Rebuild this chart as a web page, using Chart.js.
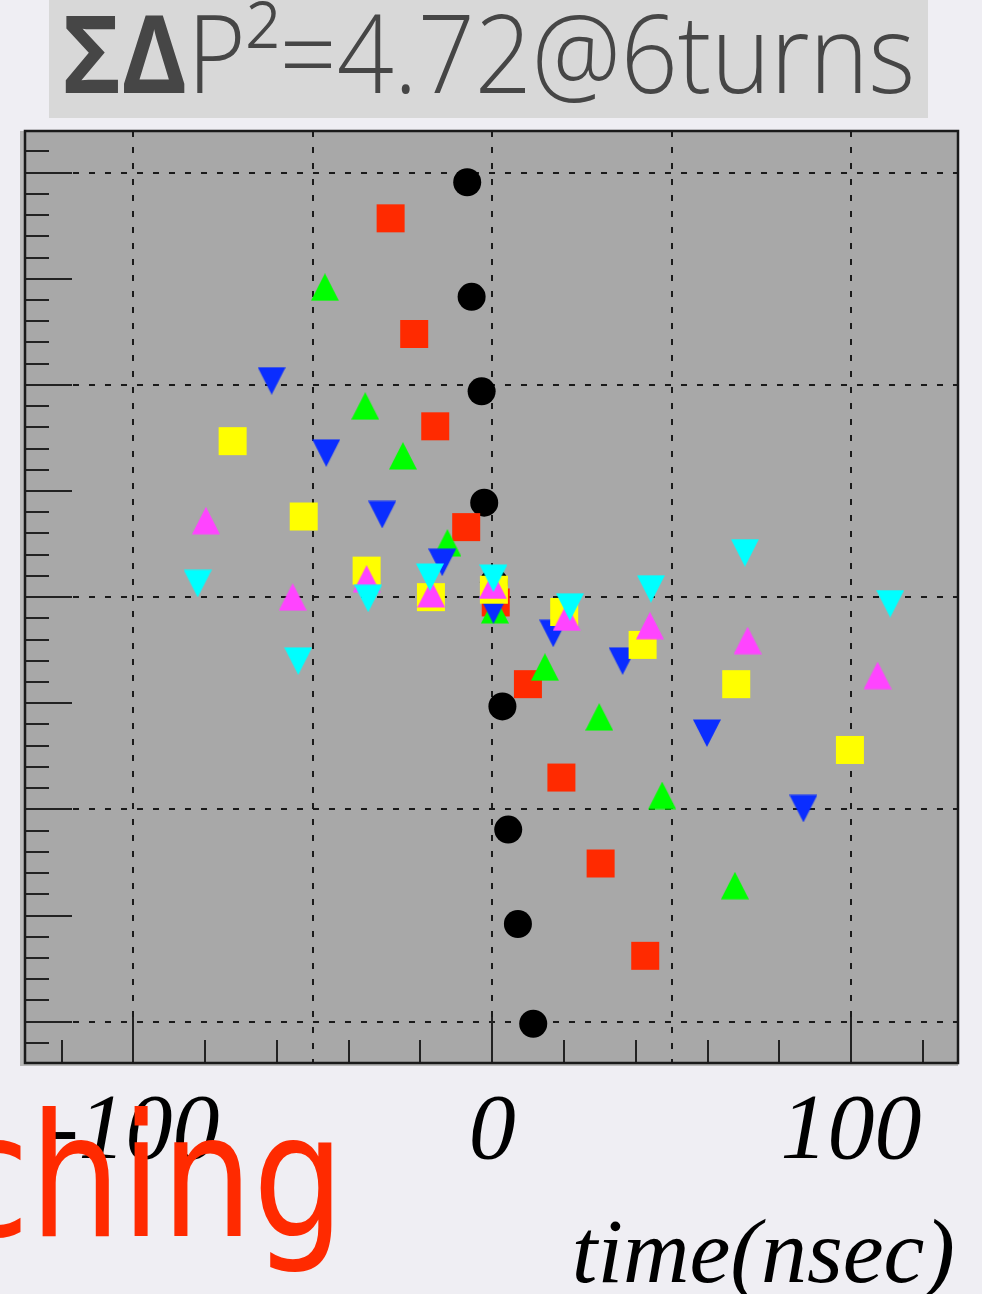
<!DOCTYPE html>
<html lang="en">
<head>
<meta charset="UTF-8">
<title>Sum dP2 at 6 turns</title>
<script src="https://cdn.jsdelivr.net/npm/chart.js"></script>
<style>
    html, body { margin: 0; padding: 0; }
    body { width: 982px; height: 1294px; overflow: hidden; position: relative; background: #efeef3; }
    #grafico { position: absolute; left: 0; top: 0; }
    .titulo { position: absolute; left: 49px; top: 0; width: 879px; height: 118px; background: #d8d8d8; overflow: hidden; }
    .titulo span { position: absolute; left: 13px; top: 0; font-family: "Open Sans", sans-serif; font-size: 108px;
        font-weight: 300; line-height: 1; color: #464646; white-space: nowrap; transform-origin: left top; }
    .titulo b { font-weight: 700; }
    .eixo { position: absolute; right: 27px; top: 1205px; font-family: "Liberation Serif", serif; font-style: italic;
        font-size: 92px; line-height: 1; color: #000; white-space: nowrap; }
    .ching { position: absolute; left: -50px; top: 1091px; font-family: "DejaVu Sans", sans-serif; font-size: 172px;
        line-height: 1; color: #ff2a00; white-space: nowrap; transform: scaleX(0.84); transform-origin: left top; }
</style>
</head>
<body>
    <canvas id="grafico" width="982" height="1294"></canvas>
    <div class="titulo"><span id="tituloTexto"><b>ΣΔ</b>P²=4.72@6turns</span></div>
    <div class="ching">ching</div>
    <div class="eixo">time(nsec)</div>

<script>
    // valores (x = tempo em nsec, y = unidade arbitraria)
    var pretoX = [-6.97, -5.74, -2.95, -2.23, 0.47, 2.84, 4.46, 7.16, 11.43];
    var pretoY = [3.91, 2.83, 1.94, 0.89, 0.14, -1.03, -2.19, -3.08, -4.02];

    var vermelhoX = [-28.31, -21.74, -15.88, -7.25, 0.98, 9.95, 19.28, 30.21, 42.64];
    var vermelhoY = [3.57, 2.48, 1.61, 0.66, -0.05, -0.82, -1.70, -2.51, -3.38];

    var verdeX = [-46.62, -35.39, -24.88, -12.49, 0.75, 14.69, 29.82, 47.35, 67.63];
    var verdeY = [2.92, 1.80, 1.33, 0.51, -0.12, -0.66, -1.13, -1.87, -2.72];

    var azulX = [-61.47, -46.26, -30.65, -13.93, 0.33, 17.00, 36.34, 59.83, 86.72];
    var azulY = [2.04, 1.36, 0.78, 0.33, -0.12, -0.34, -0.60, -1.28, -1.99];

    var amareloX = [-72.34, -52.53, -35.00, -17.08, 0.47, 20.06, 41.91, 68.00, 99.68];
    var amareloY = [1.47, 0.76, 0.25, 0.00, 0.07, -0.14, -0.45, -0.82, -1.44];

    var magentaX = [-79.78, -55.62, -35.00, -17.00, 0.20, 20.73, 43.95, 71.17, 107.40];
    var magentaY = [0.72, 0.00, 0.17, 0.03, 0.11, -0.19, -0.27, -0.41, -0.74];

    var cianoX = [-82.09, -54.06, -34.55, -17.36, 0.33, 21.65, 44.22, 70.42, 110.91];
    var cianoY = [0.13, -0.60, -0.01, 0.19, 0.18, -0.09, 0.08, 0.42, -0.06];

    var rotulosX = [-100, 0, 100];
    var textosX = ['-100', '0', '100'];
    var gradeX = [-100, -50, 0, 50, 100];
    var gradeY = [-4, -2, 0, 2, 4];

    // ajusta largura do titulo
    var tit = document.getElementById('tituloTexto');
    tit.style.transform = 'scaleX(' + (853 / tit.offsetWidth) + ')';
    tit.style.top = (94 - 108 * 1.069 - 108 * (1 - 1.362) / 2) + 'px';

    function pontos(xs, ys) {
        return xs.map(function (v, i) { return { x: v, y: ys[i] }; });
    }

    function triangulo(cor, paraBaixo) {
        var c = document.createElement('canvas');
        c.width = 28;
        c.height = 28;
        var g = c.getContext('2d');
        g.fillStyle = cor;
        g.beginPath();
        if (paraBaixo) {
            g.moveTo(0, 0.5); g.lineTo(28, 0.5); g.lineTo(14, 28);
        } else {
            g.moveTo(14, 0); g.lineTo(28, 27.5); g.lineTo(0, 27.5);
        }
        g.closePath();
        g.fill();
        return c;
    }

    function serie(xs, ys, cor, estilo, raio) {
        return {
            data: pontos(xs, ys),
            pointStyle: estilo,
            pointRadius: raio,
            pointHoverRadius: raio,
            pointBackgroundColor: cor,
            pointBorderWidth: 0,
            showLine: false
        };
    }

    var moldura = {
        id: 'moldura',
        beforeDatasetsDraw: function (chart) {
            var ctx = chart.ctx;
            var a = chart.chartArea;
            var sx = chart.scales.x;
            var sy = chart.scales.y;

            function linha(x1, y1, x2, y2) {
                ctx.beginPath();
                ctx.moveTo(x1, y1);
                ctx.lineTo(x2, y2);
                ctx.stroke();
            }

            ctx.save();
            ctx.fillStyle = '#b8b8b8';
            ctx.fillRect(a.left - 5, a.top, 5, a.bottom - a.top + 3);
            ctx.fillRect(a.left - 5, a.bottom, a.right - a.left + 5, 3);
            ctx.fillStyle = '#a8a8a8';
            ctx.fillRect(a.left, a.top, a.right - a.left, a.bottom - a.top);

            // grade tracejada
            ctx.strokeStyle = '#1a1a1a';
            ctx.lineWidth = 2;
            ctx.setLineDash([6, 10]);
            gradeX.forEach(function (v) {
                var p = Math.round(sx.getPixelForValue(v));
                linha(p, a.top, p, a.bottom);
            });
            gradeY.forEach(function (v) {
                var p = Math.round(sy.getPixelForValue(v));
                linha(a.left, p, a.right, p);
            });
            ctx.setLineDash([]);

            // marcas do eixo x (a cada 20, grandes a cada 100)
            ctx.strokeStyle = '#222';
            for (var t = -120; t <= 120; t += 20) {
                var px = Math.round(sx.getPixelForValue(t));
                var tam = (t % 100 === 0) ? 46 : 23;
                linha(px, a.bottom, px, a.bottom - tam);
            }
            // marcas do eixo y (a cada 0.2, grandes a cada 1)
            for (var k = -21; k <= 21; k++) {
                var py = Math.round(sy.getPixelForValue(k * 0.2));
                var tamY = (k % 5 === 0) ? 47 : 24;
                linha(a.left, py, a.left + tamY, py);
            }

            ctx.lineWidth = 2.5;
            ctx.strokeStyle = '#1a1a1a';
            ctx.strokeRect(a.left, a.top, a.right - a.left, a.bottom - a.top);

            ctx.fillStyle = '#000';
            ctx.font = 'italic 94px "Liberation Serif"';
            ctx.textAlign = 'center';
            ctx.textBaseline = 'alphabetic';
            rotulosX.forEach(function (v, i) {
                ctx.fillText(textosX[i], sx.getPixelForValue(v), 1158);
            });
            ctx.restore();
        }
    };

    // primeiro da lista fica por cima
    var grafico = new Chart(document.getElementById('grafico'), {
        type: 'scatter',
        data: {
            datasets: [
                serie(cianoX, cianoY, '#00ffff', triangulo('#00ffff', true), 14),
                serie(magentaX, magentaY, '#ff44ff', triangulo('#ff44ff', false), 14),
                serie(amareloX, amareloY, '#ffff00', 'rect', 19.8),
                serie(azulX, azulY, '#0a2dff', triangulo('#0a2dff', true), 14),
                serie(verdeX, verdeY, '#00ff00', triangulo('#00ff00', false), 14),
                serie(vermelhoX, vermelhoY, '#ff2a00', 'rect', 19.8),
                serie(pretoX, pretoY, '#000000', 'circle', 14)
            ]
        },
        options: {
            responsive: false,
            animation: false,
            devicePixelRatio: 1,
            events: [],
            layout: { padding: { left: 25, right: 24, top: 131, bottom: 231 } },
            scales: {
                x: { type: 'linear', min: -130.2, max: 129.8, display: false },
                y: { type: 'linear', min: -4.39, max: 4.393, display: false }
            },
            plugins: { legend: { display: false }, tooltip: { enabled: false } }
        },
        plugins: [moldura]
    });
</script>
</body>
</html>
